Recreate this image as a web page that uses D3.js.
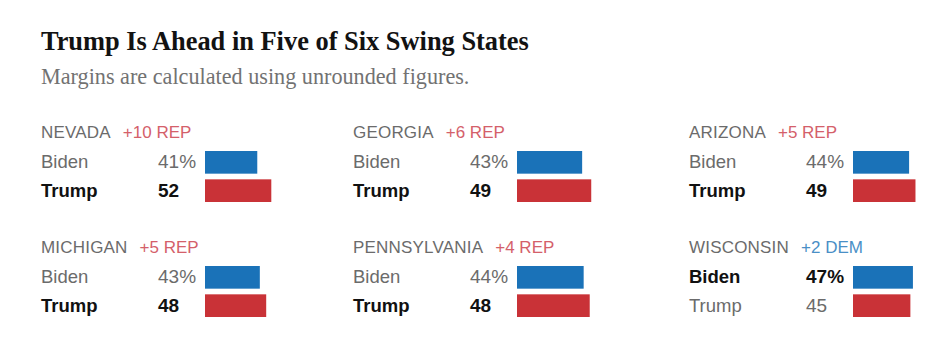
<!DOCTYPE html>
<html>
<head>
<meta charset="utf-8">
<script src="https://cdn.jsdelivr.net/npm/d3@7"></script>
<style>
  html, body { margin: 0; padding: 0; background: #fff; }
  .title { font-family: "Liberation Serif", serif; font-weight: 700; fill: #121212; }
  .subtitle { font-family: "Liberation Serif", serif; fill: #727272; }
  .lbl { font-family: "Liberation Sans", Arial, sans-serif; }
</style>
</head>
<body>
<div id="chart"></div>
<script>
// Poll: swing state head-to-head, Biden vs Trump
const states = ['NEVADA', 'GEORGIA', 'ARIZONA', 'MICHIGAN', 'PENNSYLVANIA', 'WISCONSIN'];
const bidenPct = [41, 43, 44, 43, 44, 47];
const trumpPct = [52, 49, 49, 48, 48, 45];
const marginLabels = ['+10 REP', '+6 REP', '+5 REP', '+5 REP', '+4 REP', '+2 DEM'];
const leaders = ['Trump', 'Trump', 'Trump', 'Trump', 'Trump', 'Biden'];

const width = 935;
const height = 354;

const colors = {
  Biden: '#1a72b8',
  Trump: '#c93237',
  demText: '#4a8fc6',
  repText: '#d4606a',
  grey: '#6b6b6b',
  dark: '#111'
};

const svg = d3.select('#chart').append('svg')
  .attr('width', width)
  .attr('height', height)
  .style('display', 'block');

svg.append('text')
  .attr('class', 'title')
  .attr('x', 41)
  .attr('y', 50)
  .style('font-size', '26.4px')
  .text('Trump Is Ahead in Five of Six Swing States');

svg.append('text')
  .attr('class', 'subtitle')
  .attr('x', 41)
  .attr('y', 84)
  .style('font-size', '22.2px')
  .text('Margins are calculated using unrounded figures.');

// grid of panels: 3 columns x 2 rows
const colX = [41, 353, 689];
const rowY = [138, 253];
const barMax = [127.5, 151.5, 127.5]; // px for 100%

const panels = states.map((s, i) => ({
  state: s,
  margin: marginLabels[i],
  leader: leaders[i],
  col: i % 3,
  row: Math.floor(i / 3),
  rows: [
    { name: 'Biden', value: bidenPct[i], label: bidenPct[i] + '%' },
    { name: 'Trump', value: trumpPct[i], label: String(trumpPct[i]) }
  ]
}));

const panel = svg.selectAll('.panel')
  .data(panels)
  .enter()
  .append('g')
  .attr('class', 'panel')
  .attr('transform', d => `translate(${colX[d.col]},${rowY[d.row]})`);

panel.each(function(d) {
  const g = d3.select(this);
  const x = d3.scaleLinear().domain([0, 100]).range([0, barMax[d.col]]);
  const y = d3.scaleBand().domain(['Biden', 'Trump']).range([13, 64]).paddingInner(0.2);

  const name = g.append('text')
    .attr('class', 'lbl')
    .attr('x', 0)
    .attr('y', 0)
    .attr('fill', colors.grey)
    .style('font-size', '17px')
    .style('letter-spacing', '0.2px')
    .text(d.state);

  const nameW = name.node().getComputedTextLength();
  g.append('text')
    .attr('class', 'lbl')
    .attr('x', nameW + 12)
    .attr('y', 0)
    .attr('fill', d.margin.includes('DEM') ? colors.demText : colors.repText)
    .style('font-size', '17px')
    .text(d.margin);

  const rows = g.selectAll('.row')
    .data(d.rows)
    .enter()
    .append('g')
    .attr('class', 'row');

  rows.append('text')
    .attr('class', 'lbl')
    .attr('x', 0)
    .attr('y', r => y(r.name) + y.bandwidth() / 2 + 6)
    .attr('fill', r => r.name === d.leader ? colors.dark : colors.grey)
    .style('font-weight', r => r.name === d.leader ? 700 : 400)
    .style('font-size', '18.5px')
    .text(r => r.name);

  rows.append('text')
    .attr('class', 'lbl')
    .attr('x', 117)
    .attr('y', r => y(r.name) + y.bandwidth() / 2 + 6)
    .attr('fill', r => r.name === d.leader ? colors.dark : colors.grey)
    .style('font-weight', r => r.name === d.leader ? 700 : 400)
    .style('font-size', '19px')
    .text(r => r.label);

  rows.append('rect')
    .attr('x', 164)
    .attr('y', r => y(r.name))
    .attr('width', r => x(r.value))
    .attr('height', y.bandwidth())
    .attr('fill', r => colors[r.name]);
});
</script>
</body>
</html>
